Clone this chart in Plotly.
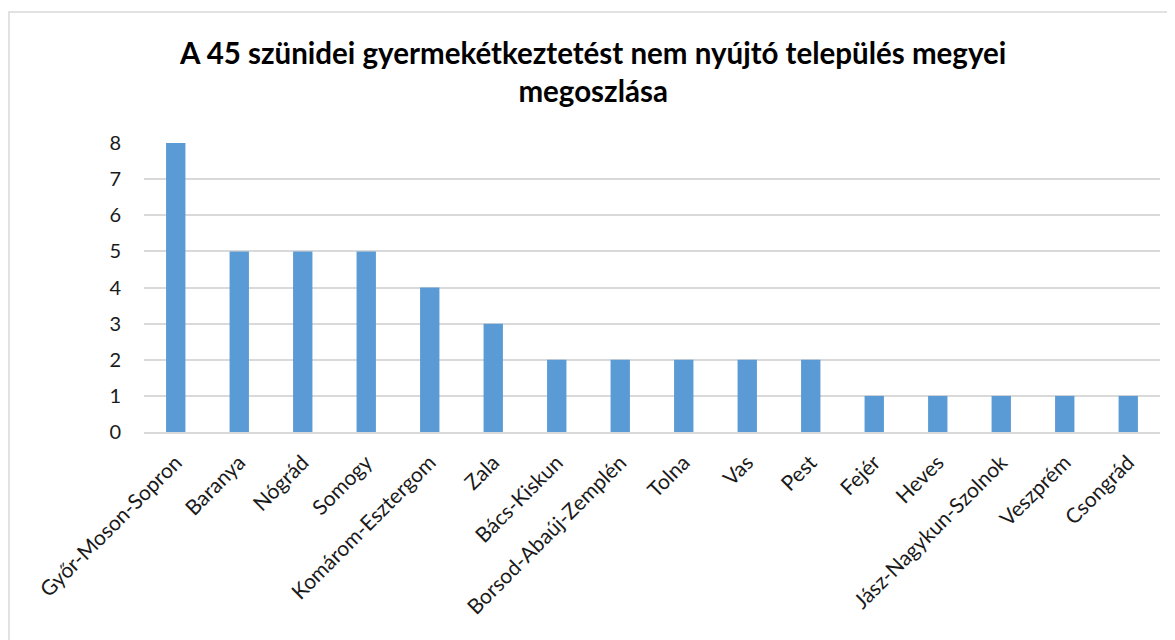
import plotly.graph_objects as go

categories = ["Győr-Moson-Sopron", "Baranya", "Nógrád", "Somogy", "Komárom-Esztergom",
              "Zala", "Bács-Kiskun", "Borsod-Abaúj-Zemplén", "Tolna", "Vas", "Pest",
              "Fejér", "Heves", "Jász-Nagykun-Szolnok", "Veszprém", "Csongrád"]
values = [8, 5, 5, 5, 4, 3, 2, 2, 2, 2, 2, 1, 1, 1, 1, 1]
y_ticks = [0, 1, 2, 3, 4, 5, 6, 7, 8]
title_text = "A 45 szünidei gyermekétkeztetést nem nyújtó település megyei<br>megoszlása"

# page body has an 8px margin; compensate so the plot lands where it should
OFF = 8
W, H = 1175, 640
L, R, T, B = 144 - OFF, 1175 - (1160 - OFF), 143 - OFF, 640 - (432 - OFF)
pw, ph = W - L - R, H - T - B

fig = go.Figure(go.Bar(x=categories, y=values, marker=dict(color="#5B9BD5", line=dict(width=0))))

fig.update_layout(
    width=W, height=H,
    margin=dict(l=L, r=R, t=T, b=B),
    paper_bgcolor="white", plot_bgcolor="white",
    bargap=0.695,
    showlegend=False,
    font=dict(family="Lato", color="#1a1a1a"),
    title=dict(text=title_text, x=0.498, xanchor="center", y=1 - (64 - OFF) / H, yanchor="middle",
               font=dict(family="Lato", size=29.5, color="#000000", weight="bold")),
    xaxis=dict(tickangle=-45, tickfont=dict(size=21, color="#1a1a1a"), showgrid=False,
               showline=True, linecolor="#d9d9d9", linewidth=2, ticks="", ticklabelstandoff=8),
    yaxis=dict(range=[0, 8], tickvals=y_ticks, tickfont=dict(size=20, color="#1a1a1a"),
               showgrid=True, gridcolor="#d9d9d9", gridwidth=2, zeroline=False,
               showline=False, ticks="", ticklabelstandoff=22),
    shapes=[dict(type="rect", xref="paper", yref="paper",
                 x0=(9 - OFF - L) / pw, x1=(1172 - OFF - L) / pw,
                 y0=-1.0, y1=(H - B - (12 - OFF)) / ph,
                 line=dict(color="#d9d9d9", width=1.5), fillcolor="rgba(0,0,0,0)", layer="below")],
)

fig.write_html("out.html")
